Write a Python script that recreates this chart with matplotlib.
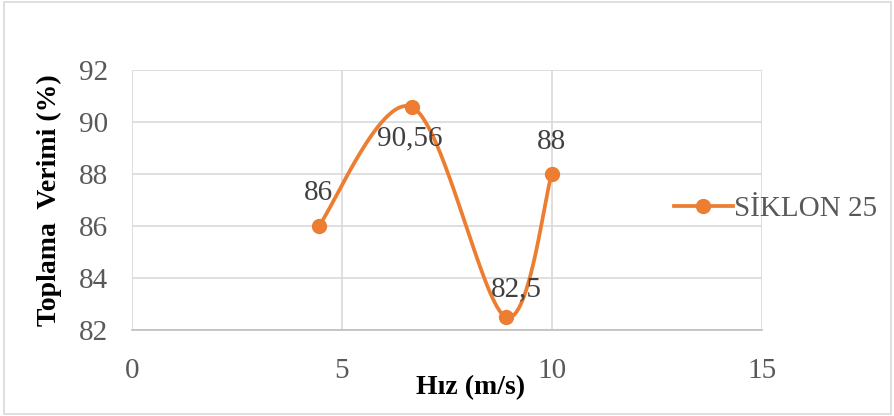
import numpy as np
import matplotlib.pyplot as plt
from matplotlib.lines import Line2D
from matplotlib.patches import Rectangle

# data
hiz = [4.45, 6.68, 8.9, 10.0]
verim = [86, 90.56, 82.5, 88]
labels = ['86', '90,56', '82,5', '88']
series_name = 'SİKLON 25'

ORANGE = '#ED7D31'
GRID = '#D9D9D9'
TICK = '#595959'
LABEL = '#404040'

plt.rcParams['font.family'] = ['Liberation Serif', 'DejaVu Serif']


def smooth_curve(x, y, n=60):
    # Excel style smoothing: cubic bezier with catmull-rom control points
    x = np.asarray(x, float)
    y = np.asarray(y, float)
    px = np.concatenate([[x[0]], x, [x[-1]]])
    py = np.concatenate([[y[0]], y, [y[-1]]])
    xs, ys = [], []
    t = np.linspace(0, 1, n)
    for i in range(1, len(px) - 2):
        p0 = np.array([px[i], py[i]])
        p3 = np.array([px[i + 1], py[i + 1]])
        c1 = p0 + (np.array([px[i + 1], py[i + 1]]) - np.array([px[i - 1], py[i - 1]])) / 6
        c2 = p3 - (np.array([px[i + 2], py[i + 2]]) - np.array([px[i], py[i]])) / 6
        b = ((1 - t)[:, None] ** 3 * p0 + 3 * ((1 - t) ** 2 * t)[:, None] * c1
             + 3 * ((1 - t) * t ** 2)[:, None] * c2 + (t ** 3)[:, None] * p3)
        xs.extend(b[:, 0])
        ys.extend(b[:, 1])
    return np.array(xs), np.array(ys)


fig = plt.figure(figsize=(8.95, 4.16), dpi=100)
ax = fig.add_axes([0.1475, 0.207, 0.7035, 0.625])

sx, sy = smooth_curve(hiz, verim)
ax.plot(sx, sy, color=ORANGE, lw=2.7, solid_capstyle='round', zorder=3)
ax.plot(hiz, verim, 'o', color=ORANGE, ms=10, zorder=4)

offsets = [(0, 24), (-2, -22), (8, 20), (0, 23)]
for xv, yv, lab, (dx, dy) in zip(hiz, verim, labels, offsets):
    ax.annotate(lab, (xv, yv), xytext=(dx, dy), textcoords='offset points',
                ha='center', va='center', fontsize=21, color=LABEL, zorder=5)

ax.set_xlim(0, 15)
ax.set_ylim(82, 92)
ax.set_xticks([0, 5, 10, 15])
ax.set_yticks([82, 84, 86, 88, 90, 92])
ax.grid(True, color=GRID, lw=1.2)
ax.set_axisbelow(True)
for s in ['top', 'right', 'left']:
    ax.spines[s].set_visible(False)
ax.spines['bottom'].set_color('#BFBFBF')
ax.spines['bottom'].set_linewidth(1.2)
ax.tick_params(length=0, labelsize=21, labelcolor=TICK)
ax.tick_params(axis='y', pad=17)
ax.tick_params(axis='x', pad=20)

ax.set_xlabel('Hız (m/s)', fontsize=20, fontweight='bold')
ax.xaxis.set_label_coords(0.537, -0.175)
ax.set_ylabel('Toplama  Verimi (%)', fontsize=20, fontweight='bold', labelpad=12)

handle = Line2D([], [], color=ORANGE, lw=2.7, marker='o', ms=10)
fig.legend([handle], [series_name], loc='center left', bbox_to_anchor=(0.724, 0.497),
           frameon=False, fontsize=21, labelcolor=TICK, handlelength=2.0,
           handletextpad=0.05)

fig.patches.append(Rectangle((0.004, 0.006), 0.991, 0.99, transform=fig.transFigure,
                             fill=False, edgecolor='#D9D9D9', lw=1.2))

fig.savefig('out.png', dpi=100)
